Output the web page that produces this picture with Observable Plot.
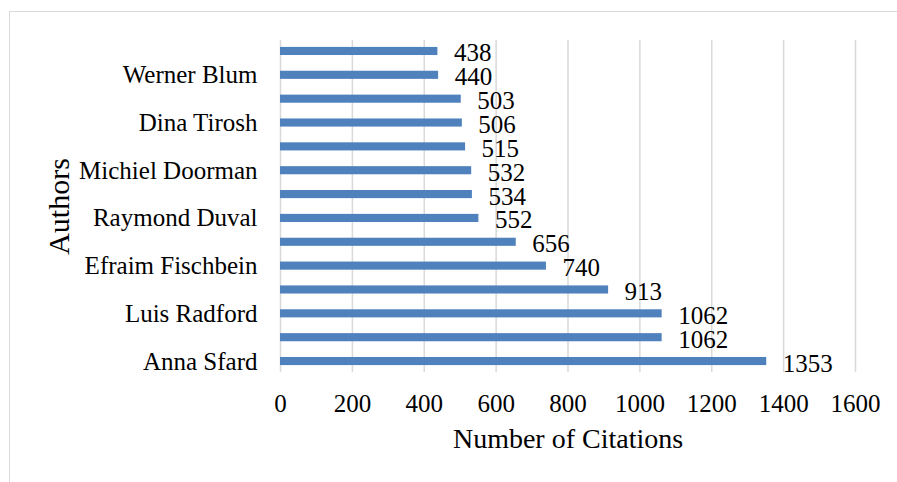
<!DOCTYPE html>
<html>
<head>
<meta charset="utf-8">
<script src="https://cdn.jsdelivr.net/npm/d3@7"></script>
<script src="https://cdn.jsdelivr.net/npm/@observablehq/plot@0.6"></script>
<style>
  html, body { margin: 0; padding: 0; background: #fff; }
  #wrap { position: relative; width: 897px; height: 482px; overflow: hidden; }
  #frame { position: absolute; left: 9px; top: 11px; width: 920px; height: 520px; border: 1.5px solid #d9d9d9; box-sizing: border-box; }
  #chart { position: absolute; left: 0; top: 0; }
</style>
</head>
<body>
<div id="wrap"><div id="frame"></div><div id="chart"></div></div>
<script>
// Ranked from bottom (highest) to top
const authors = ["Anna Sfard", "", "Luis Radford", "", "Efraim Fischbein", "", "Raymond Duval", "", "Michiel Doorman", "", "Dina Tirosh", "", "Werner Blum", ""];
const citations = [1353, 1062, 1062, 913, 740, 656, 552, 534, 532, 515, 506, 503, 440, 438];
const xTicks = [0, 200, 400, 600, 800, 1000, 1200, 1400, 1600];

const data = citations.map((v, i) => ({rank: i, value: v}));

const chart = Plot.plot({
  width: 897,
  height: 482,
  marginLeft: 280,
  marginRight: 42,
  marginTop: 40,
  marginBottom: 110,
  style: {fontFamily: "Liberation Serif", fontSize: "25px", color: "#000", background: "transparent"},
  x: {domain: [0, 1600]},
  y: {type: "band", domain: d3.range(citations.length - 1, -1, -1), paddingInner: 0.66, paddingOuter: 0.29, round: false},
  marks: [
    Plot.gridX(xTicks, {stroke: "#d9d9d9", strokeOpacity: 1, strokeWidth: 1.5}),
    Plot.barX(data, {x: "value", y: "rank", fill: "#4f81bd"}),
    Plot.text(data, {x: "value", y: "rank", text: d => String(d.value), textAnchor: "start", dx: 16, dy: 2, fill: "#000", fontSize: 25}),
    Plot.axisX({ticks: xTicks, tickSize: 0, tickPadding: 22, tickFormat: d => String(d), label: null, fontSize: 25}),
    Plot.axisY({tickSize: 0, tickPadding: 23, tickFormat: i => authors[i], label: null, fontSize: 25}),
    Plot.text(["Number of Citations"], {frameAnchor: "bottom", textAnchor: "middle", lineAnchor: "top", dx: 0, dy: 56, text: d => d, fontSize: 28, fill: "#000"}),
    Plot.text(["Authors"], {frameAnchor: "left", textAnchor: "middle", dx: -221, rotate: -90, text: d => d, fontSize: 30, fill: "#000"})
  ]
});
document.getElementById("chart").appendChild(chart);
</script>
</body>
</html>
